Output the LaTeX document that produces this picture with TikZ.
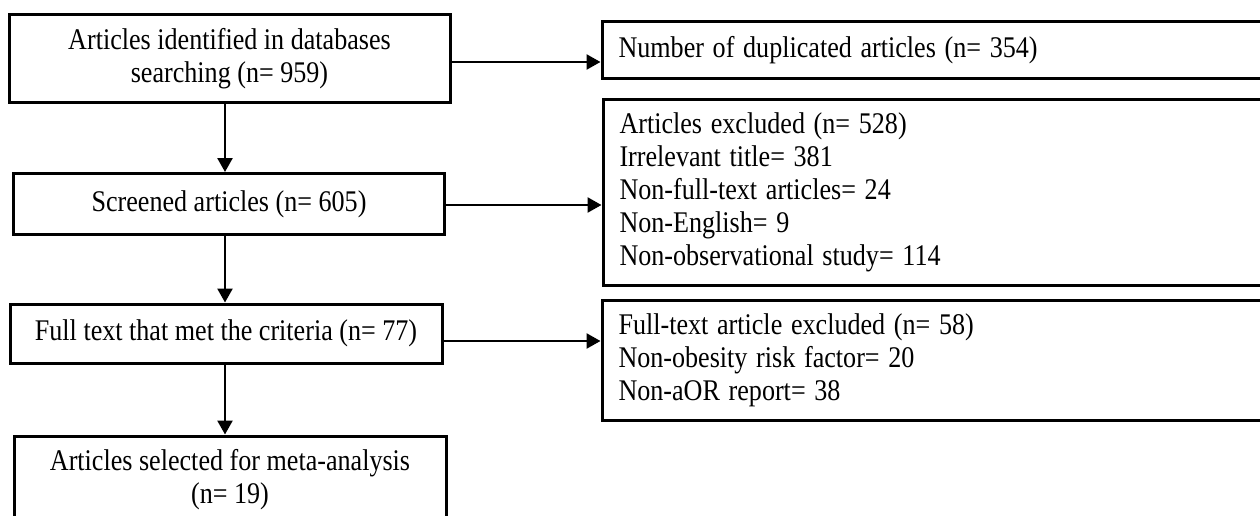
\documentclass[tikz,border=0pt]{standalone}
\usepackage{fontspec}
\usepackage{graphicx}
\setmainfont{Liberation Serif}
\usetikzlibrary{arrows.meta}
\newcommand{\sq}[1]{\scalebox{0.87}[1]{#1}}
\begin{document}
\begin{tikzpicture}[x=1pt,y=-1pt,
  box/.style={draw=black, line width=3pt, fill=white, inner sep=0pt, align=center,
    font=\fontsize{30}{33}\selectfont},
  lbox/.style={box, align=left, inner xsep=16.5pt, text width=667pt, anchor=west},
  arr/.style={line width=2.5pt, -{Triangle[width=15pt,length=14pt]}}]
\useasboundingbox (0,0) rectangle (1260,516);
\clip (0,0) rectangle (1260,516);
% left column
\node[box, minimum width=441pt, minimum height=88pt] (b1) at (229.5,59)
  {\sq{Articles identified in databases}\\\sq{searching (n= 959)}};
\node[box, minimum width=431pt, minimum height=61pt] (b2) at (229,204)
  {\sq{Screened articles (n= 605)}};
\node[box, minimum width=432pt, minimum height=59pt] (b3) at (226,333.5)
  {\sq{Full text that met the criteria (n= 77)}};
\node[box, minimum width=432pt, minimum height=88pt] (b4) at (230,480)
  {\sq{Articles selected for meta-analysis}\\\sq{(n= 19)}};
% right column
\node[lbox, minimum height=57pt] (r1) at (600.5,50)
  {\sq{Number of duplicated articles (n= 354)}};
\node[lbox, minimum height=186pt] (r2) at (601.5,192.5)
  {\sq{Articles excluded (n= 528)}\\\sq{Irrelevant title= 381}\\\sq{Non-full-text articles= 24}\\\sq{Non-English= 9}\\\sq{Non-observational study= 114}};
\node[lbox, minimum height=120pt] (r3) at (600.5,360.5)
  {\sq{Full-text article excluded (n= 58)}\\\sq{Non-obesity risk factor= 20}\\\sq{Non-aOR report= 38}};
% connector guides
\coordinate (ax) at (225,0);
\coordinate (h1) at (0,62);
\coordinate (h2) at (0,205);
\coordinate (h3) at (0,341);
% connectors
\draw[arr] (b1.south -| ax) -- (b2.north -| ax);
\draw[arr] (b2.south -| ax) -- (b3.north -| ax);
\draw[arr] (b3.south -| ax) -- (b4.north -| ax);
\draw[arr] (b1.east |- h1) -- (r1.west |- h1);
\draw[arr] (b2.east |- h2) -- (r2.west |- h2);
\draw[arr] (b3.east |- h3) -- (r3.west |- h3);
\end{tikzpicture}
\end{document}
